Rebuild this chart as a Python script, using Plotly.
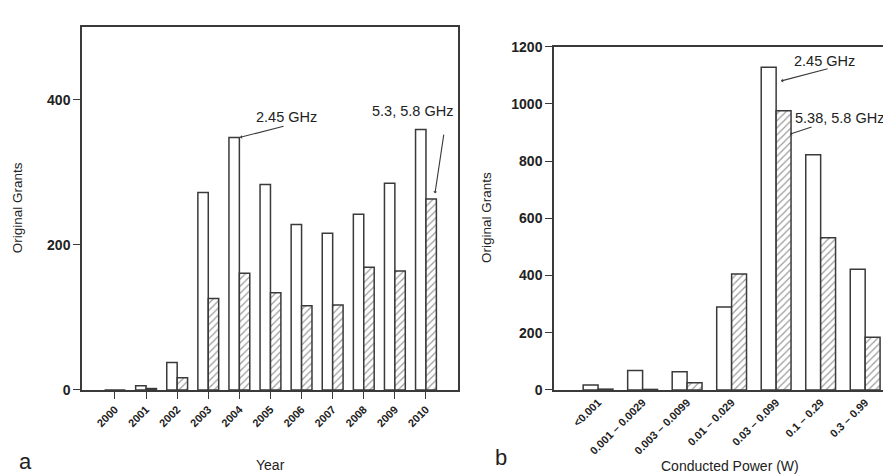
import plotly.graph_objects as go

years = ["2000", "2001", "2002", "2003", "2004", "2005", "2006", "2007", "2008", "2009", "2010"]
year_open = [0, 6, 38, 272, 348, 283, 228, 216, 242, 285, 359]
year_hatch = [0, 2, 17, 126, 161, 134, 116, 117, 169, 164, 263]

power_bins = ["<0.001", "0.001 \u2013 0.0029", "0.003 \u2013 0.0099", "0.01 \u2013 0.029",
              "0.03 \u2013 0.099", "0.1 \u2013 0.29", "0.3 \u2013 0.99"]
power_open = [17, 68, 64, 290, 1128, 822, 422]
power_hatch = [3, 2, 25, 405, 976, 532, 184]

yticks_a = [0, 200, 400]
yticks_b = [0, 200, 400, 600, 800, 1000, 1200]

LINE = "#3a3a3a"
FONT = "Liberation Sans, Arial, sans-serif"

xi_a = list(range(len(years)))
xi_b = list(range(len(power_bins)))

fig = go.Figure()

def add_pair(xs, v_open, v_hatch, xa, ya):
    fig.add_trace(go.Bar(x=xs, y=v_open, xaxis=xa, yaxis=ya, offsetgroup="o" + xa,
                         marker=dict(color="white", line=dict(color=LINE, width=1.5)),
                         showlegend=False, hoverinfo="x+y"))
    fig.add_trace(go.Bar(x=xs, y=v_hatch, xaxis=xa, yaxis=ya, offsetgroup="h" + xa,
                         marker=dict(color="white", line=dict(color=LINE, width=1.5),
                                     pattern=dict(shape="/", fgcolor=LINE, bgcolor="white",
                                                  size=5, solidity=0.25)),
                         showlegend=False, hoverinfo="x+y"))

add_pair(xi_a, year_open, year_hatch, "x", "y")
add_pair(xi_b, power_open, power_hatch, "x2", "y2")

def bold(labels):
    return ["<b>%s</b>" % s for s in labels]

tickfont = dict(family=FONT, size=14, color="#222")
xtickfont = dict(family=FONT, size=11, color="#222")

fig.update_layout(
    width=891, height=476,
    margin=dict(l=0, r=0, t=0, b=0),
    paper_bgcolor="white", plot_bgcolor="white",
    barmode="group", bargap=0.33, bargroupgap=0,
    font=dict(family=FONT, color="#222"),
    xaxis=dict(domain=[74/891, 450/891], range=[-1.06, 11.03],
               tickvals=xi_a, ticktext=bold(years), tickangle=-45, ticks="outside",
               ticklen=7, tickcolor=LINE, showline=True, linecolor=LINE, linewidth=1.5,
               mirror=True, showgrid=False, zeroline=False, tickfont=xtickfont, anchor="y"),
    yaxis=dict(domain=[1-387/476, 1-11.5/476], range=[0, 500],
               tickvals=yticks_a, ticktext=bold([str(v) for v in yticks_a]),
               ticks="outside", ticklen=7, tickcolor=LINE,
               showline=True, linecolor=LINE, linewidth=1.5, mirror=True,
               showgrid=False, zeroline=False, tickfont=tickfont, anchor="x"),
    xaxis2=dict(domain=[546/891, 1.0], range=[-0.99, 6.76],
                tickvals=xi_b, ticktext=bold(power_bins), tickangle=-45, ticks="",
                showline=True, linecolor=LINE, linewidth=1.5, mirror=True,
                showgrid=False, zeroline=False, tickfont=xtickfont, anchor="y2"),
    yaxis2=dict(domain=[1-387/476, 1-31.7/476], range=[0, 1200],
                tickvals=yticks_b, ticktext=bold([str(v) for v in yticks_b]),
                ticks="outside", ticklen=7,
                tickcolor=LINE, showline=True, linecolor=LINE, linewidth=1.5,
                showgrid=False, zeroline=False, tickfont=tickfont, anchor="x2"),
)

def label(text, x, y, size, xref="paper", yref="paper", angle=0):
    return dict(text=text, x=x, y=y, xref=xref, yref=yref, showarrow=False,
                xanchor="center", yanchor="middle", textangle=angle,
                font=dict(size=size))

def arrow(x, y, ax, ay, xref, yref):
    return dict(text="", x=x, y=y, ax=ax, ay=ay, xref=xref, yref=yref,
                axref=xref, ayref=yref, showarrow=True, arrowhead=1, arrowsize=0.6,
                arrowwidth=1.1, arrowcolor=LINE)

ann = [
    label("Year", 262/891, 1-465/476, 14),
    label("Conducted Power (W)", 722/891, 1-466/476, 14),
    label("Original Grants", 9/891, 1-199/476, 13.5, angle=-90),
    label("Original Grants", 479/891, 1-209/476, 13.5, angle=-90),
    label("a", 17/891, 1-461/476, 22),
    label("b", 493/891, 1-457/476, 22),
    label("2.45 GHz", 5.5, 376, 14.5, "x", "y"),
    arrow(4.02, year_open[4], 5.47, 364, "x", "y"),
    label("5.3, 5.8 GHz", 9.58, 384, 14.5, "x", "y"),
    arrow(10.29, year_hatch[10] + 8, 10.58, 354, "x", "y"),
    label("2.45 GHz", 5.09, 1151, 14.5, "x2", "y2"),
    arrow(4.11, 1080, 5.19, 1124, "x2", "y2"),
    label("5.38, 5.8 GHz", 5.42, 952, 14.5, "x2", "y2"),
    arrow(4.31, 894, 4.83, 921, "x2", "y2"),
]

fig.update_layout(annotations=ann)
fig.write_html("out.html")
